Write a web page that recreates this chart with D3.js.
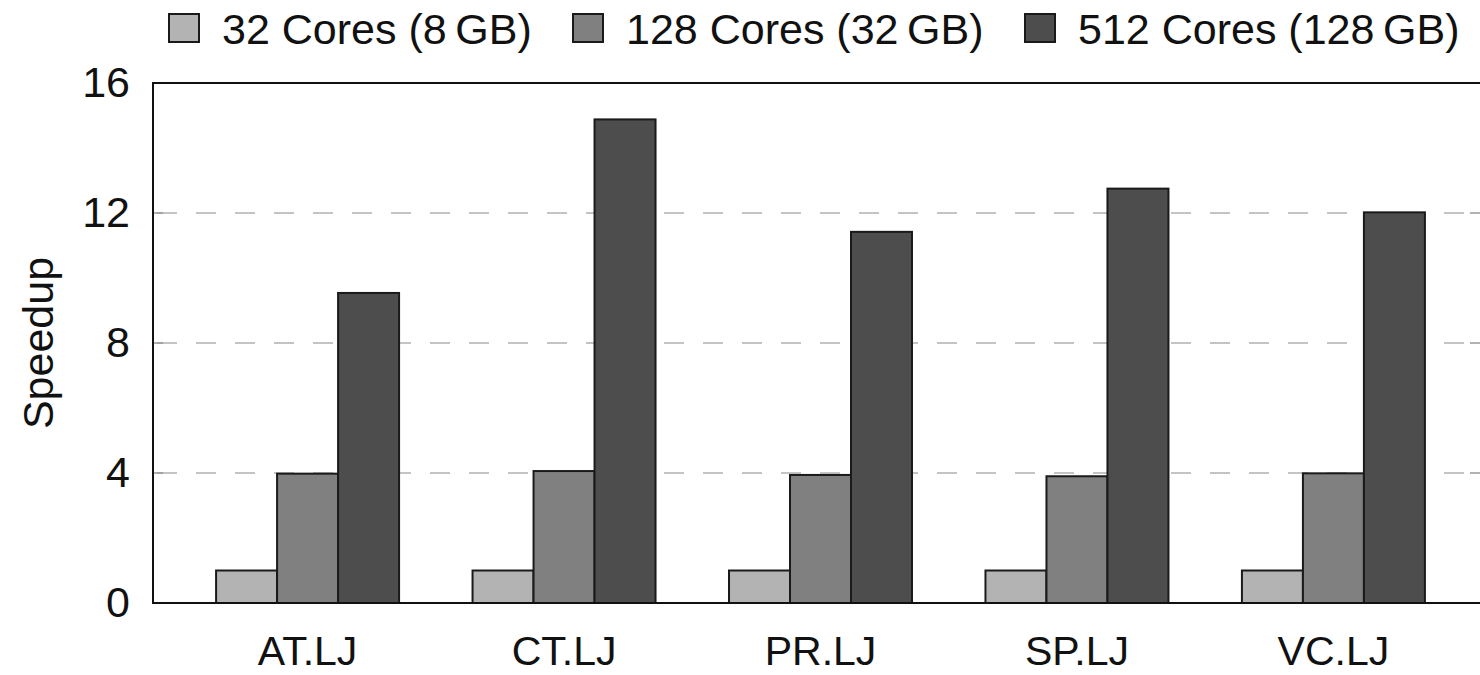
<!DOCTYPE html>
<html>
<head>
<meta charset="utf-8">
<script src="https://cdn.jsdelivr.net/npm/d3@7"></script>
<style>
  html, body { margin: 0; padding: 0; background: #fff; }
  svg { display: block; font-family: "Liberation Sans", Arial, Helvetica, sans-serif; }
</style>
</head>
<body>
<svg id="chart" width="1480" height="675"></svg>
<script>
const categories = ["AT.LJ", "CT.LJ", "PR.LJ", "SP.LJ", "VC.LJ"];
const seriesNames = ["32 Cores (8\u2009GB)", "128 Cores (32\u2009GB)", "512 Cores (128\u2009GB)"];
const cores32 = [1.0, 1.0, 1.0, 1.0, 1.0];
const cores128 = [3.98, 4.06, 3.94, 3.9, 3.99];
const cores512 = [9.54, 14.88, 11.42, 12.75, 12.02];
const yTicks = [0, 4, 8, 12, 16];
const colors = ["#b3b3b3", "#808080", "#4d4d4d"];

const seriesValues = [cores32, cores128, cores512];
const FS = 43;

const svg = d3.select("#chart");
const pLeft = 153, pRight = 1488, pTop = 83, pBottom = 603;

const x = d3.scaleBand().domain(categories).range([pLeft, pRight])
  .paddingInner(0.2865).paddingOuter(0.246);
const xs = d3.scaleBand().domain(d3.range(seriesNames.length)).range([0, x.bandwidth()]);
const y = d3.scaleLinear().domain([0, 16]).range([pBottom, pTop]);

// grid lines
const grid = svg.append("g");
yTicks.filter(t => t > 0 && t < 16).forEach(t => {
  grid.append("line")
    .attr("x1", pLeft).attr("x2", pRight)
    .attr("y1", y(t)).attr("y2", y(t))
    .attr("stroke", "#c4c4c4").attr("stroke-width", 2)
    .attr("stroke-dasharray", "20,19").attr("stroke-dashoffset", -4);
  grid.append("line")
    .attr("x1", pLeft).attr("x2", pLeft + 10)
    .attr("y1", y(t)).attr("y2", y(t))
    .attr("stroke", "#999").attr("stroke-width", 1.5);
  grid.append("line")
    .attr("x1", pRight - 18).attr("x2", pRight)
    .attr("y1", y(t)).attr("y2", y(t))
    .attr("stroke", "#999").attr("stroke-width", 1.5);
});

// bars
const rows = categories.map((c, i) => ({ c, vals: seriesValues.map(s => s[i]) }));
const groups = svg.append("g").selectAll("g").data(rows).join("g")
  .attr("transform", d => `translate(${x(d.c)},0)`);
groups.selectAll("rect").data(d => d.vals.map((v, k) => ({ v, k }))).join("rect")
  .attr("x", d => xs(d.k))
  .attr("width", xs.bandwidth())
  .attr("y", d => y(d.v))
  .attr("height", d => y(0) - y(d.v))
  .attr("fill", d => colors[d.k])
  .attr("stroke", "#1a1a1a").attr("stroke-width", 2);

// frame (left, top, bottom)
svg.append("path")
  .attr("d", `M${pRight},${pTop}H${pLeft}V${pBottom}H${pRight}`)
  .attr("fill", "none").attr("stroke", "#111").attr("stroke-width", 2);

// y axis labels
const yAxis = d3.axisLeft(y).tickValues(yTicks).tickSize(0).tickPadding(23);
const gy = svg.append("g").attr("transform", `translate(${pLeft},0)`).call(yAxis);
gy.select(".domain").remove();
gy.selectAll("text").attr("font-size", FS).attr("fill", "#111")
  .attr("font-family", "Liberation Sans, Arial, sans-serif");

// x axis labels
const xAxis = d3.axisBottom(x).tickSize(0).tickPadding(33);
const gx = svg.append("g").attr("transform", `translate(0,${pBottom})`).call(xAxis);
gx.select(".domain").remove();
gx.selectAll("text").attr("font-size", 41).attr("fill", "#111")
  .attr("font-family", "Liberation Sans, Arial, sans-serif");

// y title
svg.append("text")
  .attr("transform", `translate(53,${(pTop + pBottom) / 2}) rotate(-90)`)
  .attr("text-anchor", "middle")
  .attr("font-size", FS).attr("fill", "#111")
  .text("Speedup");

// legend
const legendX = [169, 573, 1025];
const legend = svg.append("g");
seriesNames.forEach((name, k) => {
  legend.append("rect")
    .attr("x", legendX[k]).attr("y", 14)
    .attr("width", 30).attr("height", 28)
    .attr("fill", colors[k]).attr("stroke", "#1a1a1a").attr("stroke-width", 2);
  legend.append("text")
    .attr("x", legendX[k] + 53).attr("y", 44)
    .attr("font-size", FS).attr("fill", "#111")
    .text(name);
});
</script>
</body>
</html>
